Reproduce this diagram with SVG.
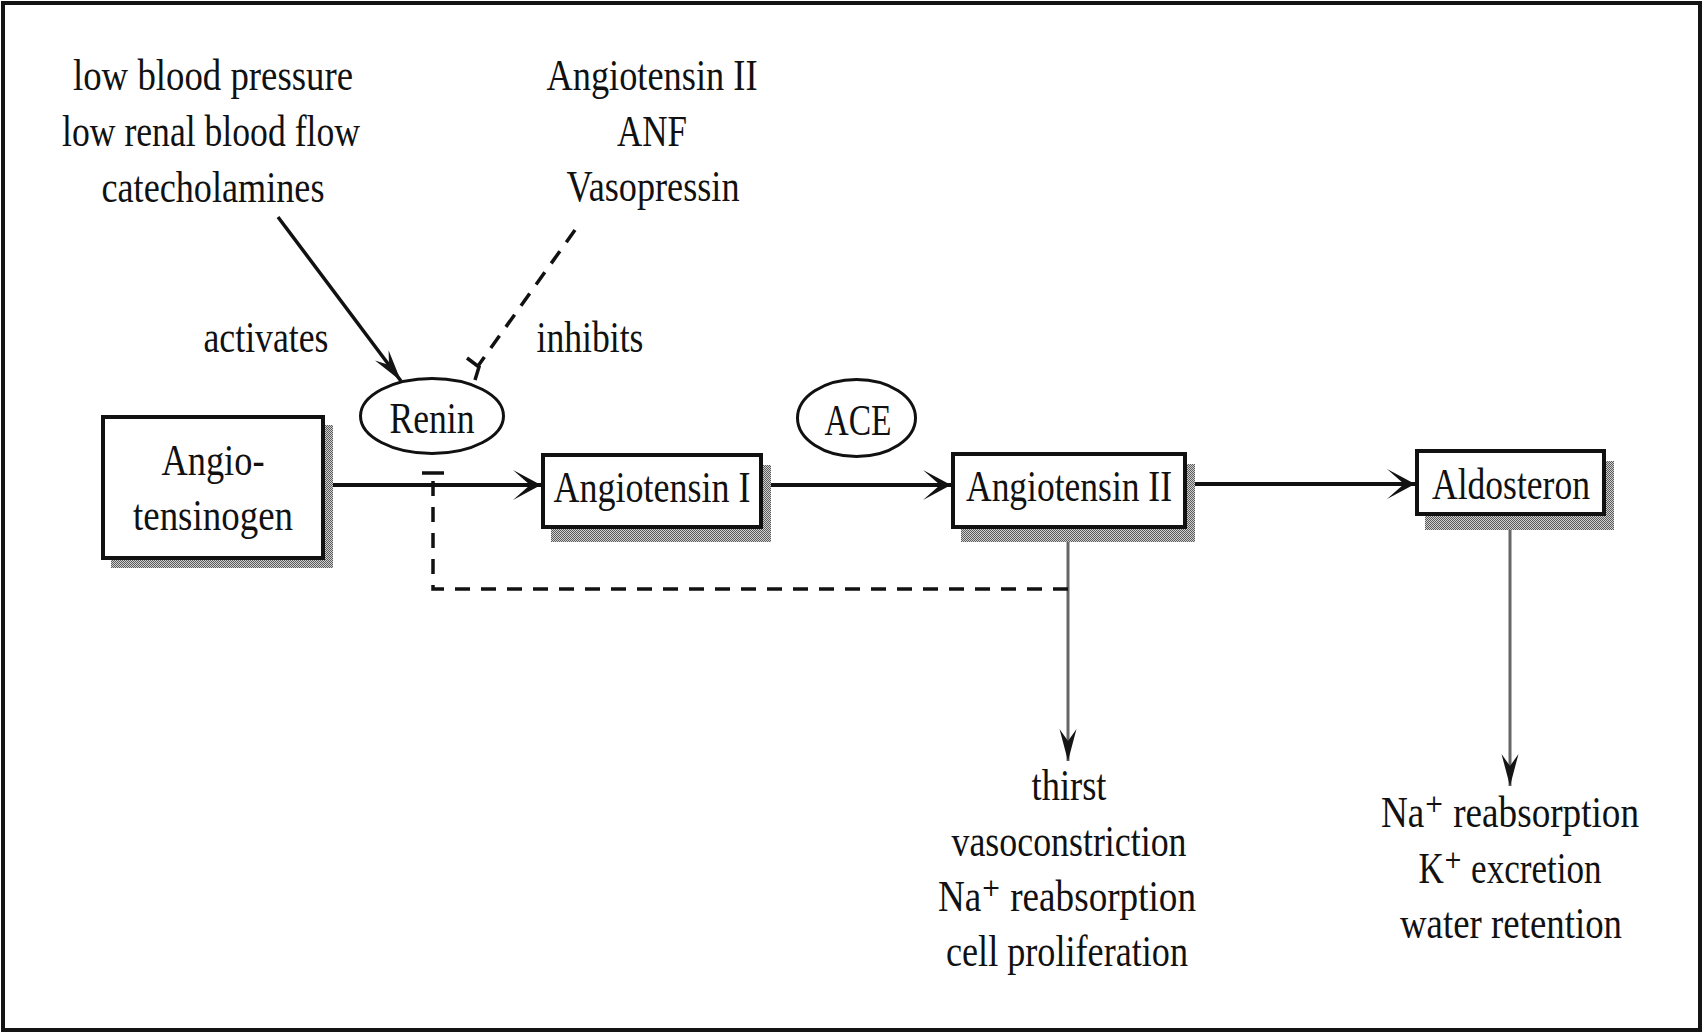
<svg xmlns="http://www.w3.org/2000/svg" width="1704" height="1033" viewBox="0 0 1704 1033">
  <style>
    text { font-family: "Liberation Serif", "DejaVu Serif", "Times New Roman", serif; font-size: 45px; fill: #111111; text-anchor: middle; }
    .box { fill: #ffffff; stroke: #111111; stroke-width: 4; }
    .shadow { fill: url(#dither); stroke: none; }
    .oval { fill: #ffffff; stroke: #111111; stroke-width: 3; }
    .flow { fill: none; stroke: #111111; stroke-width: 4; }
    .act { fill: none; stroke: #111111; stroke-width: 3.5; }
    .inh { fill: none; stroke: #111111; stroke-width: 3.5; stroke-dasharray: 15 11; }
    .bar { fill: none; stroke: #111111; stroke-width: 3.5; }
    .effect { fill: none; stroke: #666666; stroke-width: 3; }
  </style>
  <defs>
    <pattern id="dither" width="2" height="2" patternUnits="userSpaceOnUse">
      <rect width="2" height="2" fill="#d0d0d0"/>
      <rect width="1" height="1" fill="#5a5a5a"/>
      <rect x="1" y="1" width="1" height="1" fill="#5a5a5a"/>
    </pattern>
    <marker id="head" markerUnits="userSpaceOnUse" markerWidth="32" markerHeight="34" viewBox="-30 -16 32 32" refX="0" refY="0" orient="auto">
      <path d="M0,0 L-28,-15 L-11,0 L-28,15 Z" fill="#111111"/>
    </marker>
    <marker id="headNarrow" markerUnits="userSpaceOnUse" markerWidth="36" markerHeight="22" viewBox="-34 -10 36 20" refX="0" refY="0" orient="auto">
      <path d="M0,0 L-32,-8.5 L-20,0 L-32,8.5 Z" fill="#151515"/>
    </marker>
  </defs>

  <rect id="frame" x="3" y="3" width="1697" height="1027" fill="#ffffff" stroke="#141414" stroke-width="4"/>

  <g id="connectors">
    <path class="act" d="M278,217 L401,381" marker-end="url(#headNarrow)"/>
    <path class="inh" d="M575,230 L478,366"/>
    <path class="bar" d="M467,358 L479,367 L475,380"/>
    <path class="flow" d="M325,485 L541,485" marker-end="url(#head)"/>
    <path class="flow" d="M763,485 L951,485" marker-end="url(#head)"/>
    <path class="flow" d="M1187,484 L1415,484" marker-end="url(#head)"/>
    <path class="effect" d="M1068,533 L1068,761" marker-end="url(#headNarrow)"/>
    <path class="effect" d="M1510,520 L1510,786" marker-end="url(#headNarrow)"/>
    <path class="inh" d="M1068,589 L433,589 L433,474"/>
    <path class="bar" d="M422,473 L444,473"/>
  </g>

  <g id="activators">
    <text x="213" y="90" textLength="280" lengthAdjust="spacingAndGlyphs">low blood pressure</text>
    <text x="211" y="146" textLength="298" lengthAdjust="spacingAndGlyphs">low renal blood flow</text>
    <text x="213" y="202" textLength="223" lengthAdjust="spacingAndGlyphs">catecholamines</text>
  </g>
  <g id="inhibitors">
    <text x="652" y="90" textLength="211" lengthAdjust="spacingAndGlyphs">Angiotensin II</text>
    <text x="652" y="146" textLength="70" lengthAdjust="spacingAndGlyphs">ANF</text>
    <text x="653" y="201" textLength="173" lengthAdjust="spacingAndGlyphs">Vasopressin</text>
  </g>
  <g id="label-activates">
    <text x="266" y="352" textLength="125" lengthAdjust="spacingAndGlyphs">activates</text>
  </g>
  <g id="label-inhibits">
    <text x="590" y="352" textLength="107" lengthAdjust="spacingAndGlyphs">inhibits</text>
  </g>

  <g id="angiotensinogen">
    <rect class="shadow" x="111" y="425" width="222" height="143"/>
    <rect class="box" x="103" y="417" width="220" height="141"/>
    <text x="213" y="475" textLength="103" lengthAdjust="spacingAndGlyphs">Angio-</text>
    <text x="213" y="530" textLength="160" lengthAdjust="spacingAndGlyphs">tensinogen</text>
  </g>

  <g id="renin">
    <ellipse class="oval" cx="432" cy="416" rx="71.5" ry="37.5"/>
    <text x="432" y="433" textLength="85" lengthAdjust="spacingAndGlyphs">Renin</text>
  </g>

  <g id="angiotensin-i">
    <rect class="shadow" x="551" y="465" width="220" height="77"/>
    <rect class="box" x="543" y="455" width="218" height="72"/>
    <text x="652" y="502" textLength="197" lengthAdjust="spacingAndGlyphs">Angiotensin I</text>
  </g>

  <g id="ace">
    <ellipse class="oval" cx="856.5" cy="418" rx="59" ry="38.5"/>
    <text x="858" y="435" textLength="67" lengthAdjust="spacingAndGlyphs">ACE</text>
  </g>

  <g id="angiotensin-ii">
    <rect class="shadow" x="961" y="464" width="234" height="78"/>
    <rect class="box" x="953" y="454" width="232" height="73"/>
    <text x="1069" y="501" textLength="206" lengthAdjust="spacingAndGlyphs">Angiotensin II</text>
  </g>

  <g id="aldosteron">
    <rect class="shadow" x="1425" y="461" width="189" height="69"/>
    <rect class="box" x="1417" y="451" width="187" height="63"/>
    <text x="1511" y="499" textLength="158" lengthAdjust="spacingAndGlyphs">Aldosteron</text>
  </g>

  <g id="angiotensin-ii-effects">
    <text x="1069" y="800" textLength="75" lengthAdjust="spacingAndGlyphs">thirst</text>
    <text x="1069" y="856" textLength="235" lengthAdjust="spacingAndGlyphs">vasoconstriction</text>
    <text x="1067" y="911" textLength="258" lengthAdjust="spacingAndGlyphs">Na⁺ reabsorption</text>
    <text x="1067" y="966" textLength="242" lengthAdjust="spacingAndGlyphs">cell proliferation</text>
  </g>

  <g id="aldosteron-effects">
    <text x="1510" y="827" textLength="258" lengthAdjust="spacingAndGlyphs">Na⁺ reabsorption</text>
    <text x="1510" y="883" textLength="183" lengthAdjust="spacingAndGlyphs">K⁺ excretion</text>
    <text x="1511" y="938" textLength="222" lengthAdjust="spacingAndGlyphs">water retention</text>
  </g>
</svg>
